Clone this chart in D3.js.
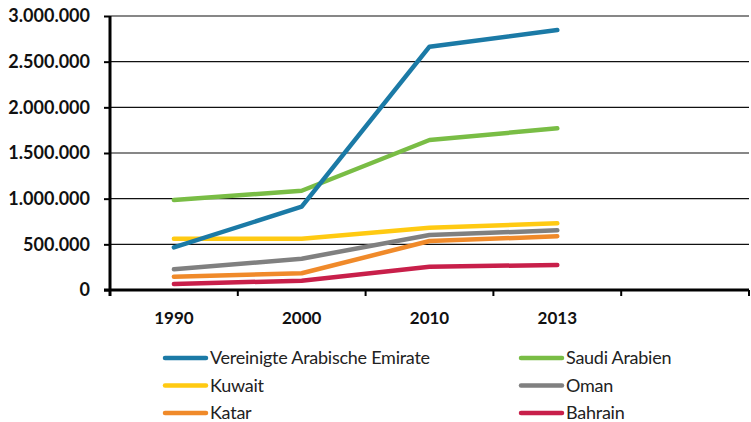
<!DOCTYPE html>
<html>
<head>
<meta charset="utf-8">
<script src="https://cdn.jsdelivr.net/npm/d3@7"></script>
<style>
  body { margin: 0; background: #fff; }
  svg { display: block; }
  .axis text { font-family: Lato, "Open Sans", sans-serif; font-weight: bold; fill: #111; }
  .legend text { font-family: Lato, sans-serif; font-size: 18px; letter-spacing: -0.25px; fill: #222; }
</style>
</head>
<body>
<script>
// Jahre (letzte Spalte bleibt leer wie im Original)
var years = ["1990", "2000", "2010", "2013"];
var yTicks = [0, 500000, 1000000, 1500000, 2000000, 2500000, 3000000];

var names = ["Vereinigte Arabische Emirate", "Saudi Arabien", "Kuwait", "Oman", "Katar", "Bahrain"];
var colors = ["#1b7aa6", "#79bd45", "#ffca12", "#808080", "#f08a2a", "#c81f4a"];

var vae = [467000, 912000, 2664000, 2847000];
var saudi = [985000, 1087000, 1642000, 1770000];
var kuwait = [562000, 562000, 682000, 730000];
var oman = [226000, 343000, 602000, 653000];
var katar = [146000, 183000, 536000, 588000];
var bahrain = [66000, 102000, 255000, 274000];

var series = [vae, saudi, kuwait, oman, katar, bahrain].map(function(v, i) {
  return {name: names[i], color: colors[i], values: v};
});

var W = 751, H = 422;
var margin = {top: 16, right: 2, bottom: 132, left: 110},
    width = W - margin.left - margin.right,
    height = H - margin.top - margin.bottom;

var svg = d3.select("body").append("svg")
    .attr("width", W)
    .attr("height", H);

var g = svg.append("g")
    .attr("transform", "translate(" + margin.left + "," + margin.top + ")");

var x = d3.scaleBand().domain(years.concat([""])).range([0, width]);
var y = d3.scaleLinear().domain([0, 3000000]).range([height, 0]);

var fmt = function(d) { return d3.format(",")(d).replace(/,/g, "."); };

// gridlines
g.append("g").selectAll("line")
    .data(yTicks.slice(1))
  .enter().append("line")
    .attr("x1", 0).attr("x2", width)
    .attr("y1", function(d) { return y(d); })
    .attr("y2", function(d) { return y(d); })
    .attr("stroke", "#111").attr("stroke-width", 1.2);

// y axis
var ya = g.append("g").attr("class", "axis")
    .call(d3.axisLeft(y).tickValues(yTicks).tickFormat(fmt).tickSize(6).tickPadding(14));
ya.select(".domain").remove();
ya.selectAll(".tick line").attr("stroke", "#000").attr("stroke-width", 2);
ya.selectAll("text").style("font-size", "18px");

// x axis
var xa = g.append("g").attr("class", "axis")
    .attr("transform", "translate(0," + height + ")")
    .call(d3.axisBottom(x).tickSize(0).tickPadding(22));
xa.select(".domain").remove();
xa.selectAll("text").style("font-size", "17px");

// x ticks at band edges
g.append("g").selectAll("line")
    .data(x.domain())
  .enter().append("line")
    .attr("x1", function(d) { return x(d) + x.bandwidth(); })
    .attr("x2", function(d) { return x(d) + x.bandwidth(); })
    .attr("y1", height).attr("y2", height + 6)
    .attr("stroke", "#000").attr("stroke-width", 2);

// axis lines
g.append("line").attr("x1", 0).attr("x2", 0).attr("y1", 0).attr("y2", height + 6)
    .attr("stroke", "#000").attr("stroke-width", 3);
g.append("line").attr("x1", -6).attr("x2", width).attr("y1", height).attr("y2", height)
    .attr("stroke", "#000").attr("stroke-width", 3);

var line = d3.line()
    .x(function(d, i) { return x(years[i]) + x.bandwidth() / 2; })
    .y(function(d) { return y(d); });

// draw back to front: Bahrain first, VAE last
g.append("g").selectAll("path")
    .data(series.slice().reverse())
  .enter().append("path")
    .attr("d", function(d) { return line(d.values); })
    .attr("fill", "none")
    .attr("stroke", function(d) { return d.color; })
    .attr("stroke-width", 4.5)
    .attr("stroke-linecap", "round")
    .attr("stroke-linejoin", "round");

// legend
var legend = svg.append("g").attr("class", "legend");
var item = legend.selectAll("g")
    .data(series)
  .enter().append("g")
    .attr("transform", function(d, i) {
      var col = i % 2, row = Math.floor(i / 2);
      return "translate(" + (col ? 521 : 165) + "," + (358 + row * 27.5) + ")";
    });
item.append("line")
    .attr("x1", 0).attr("x2", 41)
    .attr("stroke", function(d) { return d.color; })
    .attr("stroke-width", 4.5)
    .attr("stroke-linecap", "round");
item.append("text")
    .attr("x", 45).attr("dy", "0.35em")
    .text(function(d) { return d.name; });
</script>
</body>
</html>
